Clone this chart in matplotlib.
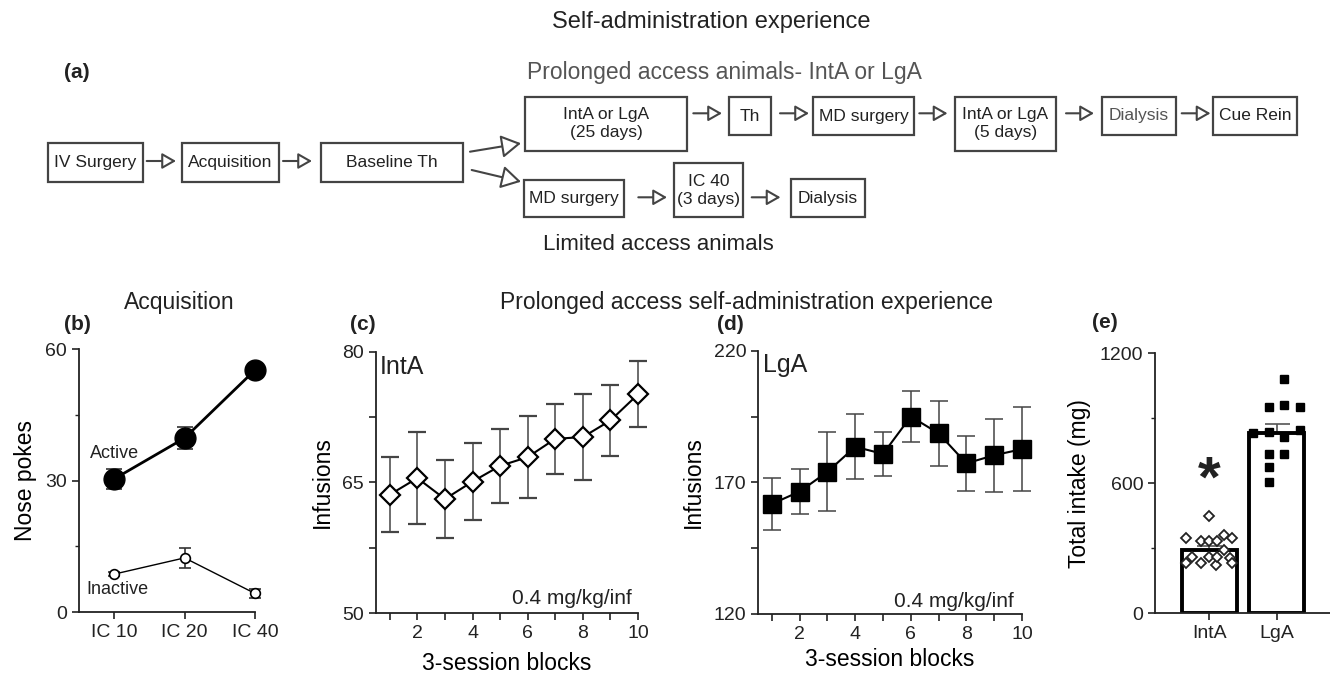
import numpy as np
import matplotlib
matplotlib.use("Agg")
import matplotlib.pyplot as plt
from matplotlib.patches import Rectangle
from matplotlib.ticker import MultipleLocator, FixedLocator

plt.rcParams['font.family'] = ['Liberation Sans', 'DejaVu Sans']
plt.rcParams['text.color'] = '#222222'
plt.rcParams['axes.edgecolor'] = '#222222'
plt.rcParams['xtick.color'] = '#222222'
plt.rcParams['ytick.color'] = '#222222'

# (b) acquisition
sessions = ['IC 10', 'IC 20', 'IC 40']
active = [30.4, 39.7, 55.2]
active_sem = [2.3, 2.5, 0.8]
inactive = [8.7, 12.4, 4.3]
inactive_sem = [0.4, 2.3, 1.0]

# (c) / (d) prolonged access infusions per 3-session block
blocks = [1, 2, 3, 4, 5, 6, 7, 8, 9, 10]
inta_inf = [63.6, 65.5, 63.1, 65.1, 66.9, 67.9, 70.0, 70.2, 72.1, 75.1]
inta_sem = [4.3, 5.3, 4.5, 4.4, 4.2, 4.7, 4.0, 4.9, 4.1, 3.8]
lga_inf = [161.8, 166.5, 174.0, 183.5, 180.8, 195.0, 188.6, 177.2, 180.3, 182.6]
lga_sem = [10.0, 8.7, 15.0, 12.3, 8.4, 9.8, 12.3, 10.5, 13.9, 16.0]

# (e) total intake
groups = ['IntA', 'LgA']
intake_mean = [292, 831]
intake_sem = [19, 45]
inta_intake = [346, 335, 335, 335, 361, 346, 451, 234, 261, 234, 261, 223, 261, 292, 254, 231]
inta_xoff = [-0.35, -0.12, 0.0, 0.12, 0.22, 0.33, 0.0, -0.35, -0.25, -0.12, 0.0, 0.10, 0.12, 0.22, 0.30, 0.33]
lga_intake = [1081, 951, 961, 954, 834, 838, 812, 846, 735, 735, 674, 607]
lga_xoff = [0.11, -0.12, 0.11, 0.34, -0.35, -0.12, 0.11, 0.34, -0.12, 0.11, -0.12, -0.12]

# flowchart (a)
fc_boxes = [
    ('IV Surgery', 47.7, 142.7, 95.6, 39, '#222222'),
    ('Acquisition', 181.7, 142.7, 97.3, 39, '#222222'),
    ('Baseline Th', 320.7, 142.7, 142, 39, '#222222'),
    ('IntA or LgA\n(25 days)', 525, 97.3, 162.3, 53.4, '#222222'),
    ('Th', 729.3, 97.3, 41.7, 37.7, '#222222'),
    ('MD surgery', 813.3, 97.3, 100.7, 37.7, '#222222'),
    ('IntA or LgA\n(5 days)', 955, 96.7, 101, 54, '#222222'),
    ('Dialysis', 1101.7, 96.7, 74, 38.3, '#555555'),
    ('Cue Rein', 1213.3, 96.7, 83.4, 38.3, '#222222'),
    ('MD surgery', 524, 180, 100.3, 37.3, '#222222'),
    ('IC 40\n(3 days)', 674.3, 163.3, 69, 54, '#222222'),
    ('Dialysis', 790.7, 179, 74.3, 38.3, '#222222'),
]
fc_arrows = [
    (146.7, 161, 176, 161), (283, 161, 312, 161),
    (693.3, 113.3, 722, 113.3), (780, 113.3, 809, 113.3),
    (919.3, 113.3, 947.5, 113.3), (1066, 113.3, 1094, 113.3),
    (1181.7, 113.3, 1210.5, 113.3),
    (638.3, 197.3, 667, 197.3), (751.7, 197.3, 780.5, 197.3),
]
fc_split = [(470, 151.7, 521, 143.3), (471.7, 170, 521, 181.7)]

fig = plt.figure(figsize=(13.3, 6.73), dpi=100)

top = fig.add_axes([0, 0, 1, 1])
top.set_xlim(0, 1330)
top.set_ylim(673, 0)
top.axis('off')

for label, x0, y0, w, h, col in fc_boxes:
    top.add_patch(Rectangle((x0, y0), w, h, fill=False, ec='#444444', lw=1.6))
    top.text(x0 + w / 2, y0 + h / 2, label, ha='center', va='center',
             fontsize=12.5, color=col, linespacing=1.25)
for x0, y0, x1, y1 in fc_arrows:
    top.annotate('', xy=(x1, y1), xytext=(x0, y0),
                 arrowprops=dict(arrowstyle='-|>,head_length=0.7,head_width=0.4',
                                 fc='white', ec='#444444', lw=1.5,
                                 shrinkA=0, shrinkB=0, mutation_scale=12))
for x0, y0, x1, y1 in fc_split:
    top.annotate('', xy=(x1, y1), xytext=(x0, y0),
                 arrowprops=dict(arrowstyle='-|>,head_length=0.55,head_width=0.32',
                                 fc='white', ec='#444444', lw=1.5,
                                 shrinkA=0, shrinkB=0, mutation_scale=22))

top.text(711, 22, 'Self-administration experience', ha='center', va='center', fontsize=17)
top.text(724, 72, 'Prolonged access animals- IntA or LgA', ha='center', va='center',
         fontsize=16.5, color='#555555')
top.text(658, 244, 'Limited access animals', ha='center', va='center', fontsize=16)
top.text(77, 72, '(a)', ha='center', va='center', fontsize=15, fontweight='bold')
top.text(179, 302, 'Acquisition', ha='center', va='center', fontsize=16.5)
top.text(746, 302, 'Prolonged access self-administration experience',
         ha='center', va='center', fontsize=16.5)
top.text(77, 325, '(b)', ha='center', va='center', fontsize=15, fontweight='bold')
top.text(363, 325, '(c)', ha='center', va='center', fontsize=15, fontweight='bold')
top.text(730, 325, '(d)', ha='center', va='center', fontsize=15, fontweight='bold')
top.text(1105, 323, '(e)', ha='center', va='center', fontsize=15, fontweight='bold')


def style(ax):
    for s in ['top', 'right']:
        ax.spines[s].set_visible(False)
    ax.spines['left'].set_linewidth(1.3)
    ax.spines['bottom'].set_linewidth(1.3)
    ax.tick_params(which='major', direction='out', length=5, width=1.2, labelsize=14)
    ax.tick_params(which='minor', direction='out', length=3, width=1.0)
    ax.patch.set_alpha(0)


# (b)
axb = fig.add_axes([0.0594, 0.0902, 0.1323, 0.3912])
xb = np.arange(len(sessions))
axb.errorbar(xb, active, yerr=active_sem, fmt='o-', color='black', ms=15, lw=2,
             ecolor='#333333', elinewidth=1.2, capsize=6, capthick=1.2, clip_on=False, zorder=3)
axb.errorbar(xb, inactive, yerr=inactive_sem, fmt='o-', color='black', mfc='white', mec='black',
             mew=1.2, ms=7, lw=1, ecolor='#333333', elinewidth=1.2, capsize=4, capthick=1.2,
             clip_on=False, zorder=3)
axb.set_xlim(-0.5, 2)
axb.set_ylim(0, 60)
axb.set_xticks(xb)
axb.set_xticklabels(sessions)
axb.set_yticks([0, 30, 60])
axb.yaxis.set_minor_locator(FixedLocator([15, 45]))
axb.set_ylabel('Nose pokes', fontsize=16.5, labelpad=6)
axb.text(0, 36.3, 'Active', ha='center', va='center', fontsize=13)
axb.text(0.05, 5.1, 'Inactive', ha='center', va='center', fontsize=13)
style(axb)

# (c)
axc = fig.add_axes([0.2827, 0.0887, 0.197, 0.3889])
axc.errorbar(blocks, inta_inf, yerr=inta_sem, fmt='D-', color='black', mfc='white', mec='black',
             mew=1.6, ms=10, lw=1.5, ecolor='#444444', elinewidth=1.1, capsize=6.5,
             capthick=1.1, clip_on=False, zorder=3)
axc.set_xlim(0.5, 10)
axc.set_ylim(50, 80)
axc.xaxis.set_major_locator(MultipleLocator(2))
axc.xaxis.set_minor_locator(FixedLocator([1, 3, 5, 7, 9]))
axc.set_yticks([50, 65, 80])
axc.yaxis.set_minor_locator(FixedLocator([57.5, 72.5]))
axc.set_xlabel('3-session blocks', fontsize=16.5, labelpad=7)
axc.set_ylabel('Infusions', fontsize=16.5, labelpad=6)
axc.text(0.015, 0.942, 'IntA', transform=axc.transAxes, ha='left', va='center', fontsize=18)
axc.text(0.977, 0.058, '0.4 mg/kg/inf', transform=axc.transAxes, ha='right', va='center', fontsize=15)
style(axc)
axc.tick_params(which='minor', length=5, width=1.2)

# (d)
axd = fig.add_axes([0.5699, 0.0877, 0.1985, 0.3912])
axd.errorbar(blocks, lga_inf, yerr=lga_sem, fmt='s-', color='black', mfc='black', mec='black',
             ms=13, lw=1.5, ecolor='#444444', elinewidth=1.1, capsize=6.5, capthick=1.1,
             clip_on=False, zorder=3)
axd.set_xlim(0.5, 10)
axd.set_ylim(120, 220)
axd.xaxis.set_major_locator(MultipleLocator(2))
axd.xaxis.set_minor_locator(FixedLocator([1, 3, 5, 7, 9]))
axd.set_yticks([120, 170, 220])
axd.yaxis.set_minor_locator(FixedLocator([145, 195]))
axd.set_xlabel('3-session blocks', fontsize=16.5, labelpad=4)
axd.set_ylabel('Infusions', fontsize=16.5, labelpad=6)
axd.text(0.02, 0.946, 'LgA', transform=axd.transAxes, ha='left', va='center', fontsize=18)
axd.text(0.967, 0.047, '0.4 mg/kg/inf', transform=axd.transAxes, ha='right', va='center', fontsize=15)
style(axd)
axd.tick_params(which='minor', length=5, width=1.2)

# (e)
axe = fig.add_axes([0.8684, 0.0887, 0.1316, 0.3863])
xe = np.arange(len(groups))
axe.bar(xe, intake_mean, width=0.81, color='white', edgecolor='black', lw=2.8, zorder=2)
axe.errorbar(xe, intake_mean, yerr=[[0, 0], intake_sem], fmt='none', ecolor='#555555',
             elinewidth=1.2, capsize=9, capthick=1.2, zorder=1)
axe.plot(xe[0] + np.array(inta_xoff), inta_intake, 'D', ms=5, mfc='white', mec='#222222',
         mew=1.3, ls='none', zorder=3)
axe.plot(xe[1] + np.array(lga_xoff), lga_intake, 's', ms=6, mfc='black', mec='black',
         ls='none', zorder=3)
axe.text(0, 610, '*', ha='center', va='center', fontsize=42, fontweight='bold')
axe.set_xlim(-0.806, 1.79)
axe.set_ylim(0, 1200)
axe.set_xticks(xe)
axe.set_xticklabels(groups)
axe.set_yticks([0, 600, 1200])
axe.yaxis.set_minor_locator(FixedLocator([300, 900]))
axe.set_ylabel('Total intake (mg)', fontsize=16.5, labelpad=6)
style(axe)

fig.savefig('out.png', dpi=100)
